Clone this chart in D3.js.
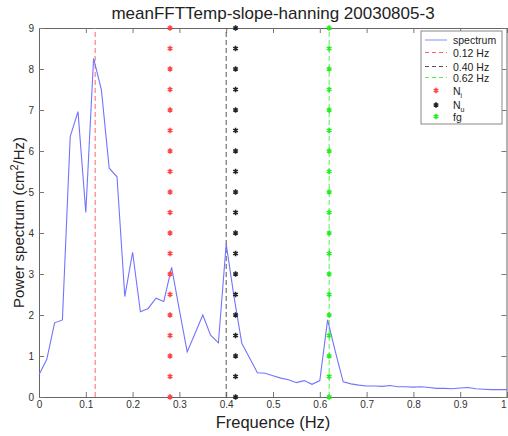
<!DOCTYPE html>
<html>
<head>
<meta charset="utf-8">
<script src="https://cdn.jsdelivr.net/npm/d3@7"></script>
<style>
  body { margin: 0; background: #fff; }
  text { font-family: "Liberation Sans", Arial, sans-serif; }
</style>
</head>
<body>
<div class="chart"></div>
<script>
// spectrum (bins of 1/60 Hz)
const freqs = d3.range(0, 61).map(k => k / 60);
const power = [0.54, 0.92, 1.81, 1.88, 6.35, 6.96, 4.50, 8.26, 7.49, 5.58,
               5.37, 2.45, 3.53, 2.08, 2.16, 2.41, 2.33, 3.16, 2.12, 1.10,
               1.55, 2.00, 1.51, 1.32, 3.73, 2.45, 1.31, 0.95, 0.59, 0.58,
               0.52, 0.46, 0.42, 0.35, 0.40, 0.31, 0.40, 1.88, 1.10, 0.37,
               0.32, 0.29, 0.27, 0.27, 0.26, 0.28, 0.25, 0.25, 0.24, 0.25,
               0.23, 0.21, 0.21, 0.20, 0.22, 0.23, 0.20, 0.19, 0.18, 0.18, 0.18];

const vlines = [
  {f: 0.12, label: "0.12 Hz", color: "#ff6666"},
  {f: 0.40, label: "0.40 Hz", color: "#555555"},
  {f: 0.62, label: "0.62 Hz", color: "#55ee55"}
];
const markerLevels = d3.range(0, 9.01, 0.5);
const markerSets = [
  {f: 0.28, label: "N", sub: "i", color: "#ff4444"},
  {f: 0.42, label: "N", sub: "u", color: "#222222"},
  {f: 0.62, label: "fg", sub: "", color: "#22ee22"}
];
const xTicks = d3.range(0, 1.01, 0.1);
const yTicks = d3.range(0, 10);

const width = 508, height = 436;
const margin = {top: 28, right: 1, bottom: 39, left: 39};

const svg = d3.select(".chart").append("svg")
    .attr("width", width)
    .attr("height", height);

const x = d3.scaleLinear().domain([0, 1]).range([margin.left, width - margin.right]);
const y = d3.scaleLinear().domain([0, 9]).range([height - margin.bottom, margin.top]);

svg.append("text")
    .attr("x", (x(0) + x(1)) / 2)
    .attr("y", 19)
    .attr("text-anchor", "middle")
    .attr("font-size", 17)
    .attr("fill", "#222")
    .text("meanFFTTemp-slope-hanning 20030805-3");

// axes with inward ticks, box like matlab
const tickFmt = d => d === 0 || d === 1 ? d3.format("d")(d) : d3.format(".1f")(d);
svg.append("g")
    .attr("transform", `translate(0,${y(0)})`)
    .call(d3.axisBottom(x).tickValues(xTicks).tickSize(-5).tickPadding(4).tickFormat(tickFmt))
    .call(g => g.select(".domain").attr("stroke", "#666"))
    .call(g => g.selectAll(".tick text").filter(d => d === 1).attr("text-anchor", "end").attr("dx", -1));
svg.append("g")
    .attr("transform", `translate(0,${y(9)})`)
    .call(d3.axisTop(x).tickValues(xTicks).tickSize(-5).tickFormat(""))
    .call(g => g.select(".domain").attr("stroke", "#666"));
svg.append("g")
    .attr("transform", `translate(${x(0)},0)`)
    .call(d3.axisLeft(y).tickValues(yTicks).tickSize(-5).tickPadding(5).tickFormat(d3.format("d")))
    .call(g => g.select(".domain").attr("stroke", "#666"));
svg.append("g")
    .attr("transform", `translate(${x(1) - 0.5},0)`)
    .call(d3.axisRight(y).tickValues(yTicks).tickSize(-5).tickFormat(""))
    .call(g => g.select(".domain").attr("stroke", "#666"));
svg.selectAll(".tick line").attr("stroke", "#777");
svg.selectAll(".tick text").attr("font-size", 10).attr("fill", "#333")
    .attr("font-family", "Liberation Sans, Arial, sans-serif");

// vertical dashed lines
svg.append("g").selectAll("line")
    .data(vlines)
    .join("line")
    .attr("x1", d => x(d.f)).attr("x2", d => x(d.f))
    .attr("y1", y(0)).attr("y2", y(9))
    .attr("stroke", d => d.color)
    .attr("stroke-width", 1)
    .attr("stroke-dasharray", "5,3");

// spectrum
const line = d3.line()
    .x((d, i) => x(freqs[i]))
    .y(d => y(d));
svg.append("path")
    .datum(power)
    .attr("fill", "none")
    .attr("stroke", "#7373ff")
    .attr("stroke-width", 1.1)
    .attr("d", line);

// star markers
const star = d3.symbol().type(d3.symbolAsterisk || d3.symbolCross).size(20);
markerSets.forEach(s => {
  svg.append("g").selectAll("path")
      .data(markerLevels)
      .join("path")
      .attr("transform", d => `translate(${x(s.f)},${y(d)})`)
      .attr("d", star)
      .attr("fill", "none")
      .attr("stroke", s.color)
      .attr("stroke-width", 1.6);
});

// axis labels
svg.append("text")
    .attr("x", (x(0) + x(1)) / 2)
    .attr("y", 428)
    .attr("text-anchor", "middle")
    .attr("font-size", 16.5)
    .attr("fill", "#222")
    .text("Frequence (Hz)");

const yl = svg.append("text")
    .attr("transform", `translate(24,${(y(0) + y(9)) / 2 + 10}) rotate(-90)`)
    .attr("text-anchor", "middle")
    .attr("font-size", 15)
    .attr("fill", "#222");
yl.append("tspan").text("Power spectrum (cm");
yl.append("tspan").attr("dy", -6).attr("font-size", 11).text("2");
yl.append("tspan").attr("dy", 6).text("/Hz)");

// legend
const lg = svg.append("g").attr("transform", "translate(421,31)");
lg.append("rect")
    .attr("width", 81).attr("height", 93)
    .attr("fill", "#fff").attr("stroke", "#888");
const rowY = [9, 21.5, 35.5, 46.5, 59.5, 74, 85.5];
const items = [{label: "spectrum", color: "#8c8cff", dash: null}]
  .concat(vlines.map(v => ({label: v.label, color: v.color, dash: "4,3"})));
items.forEach((it, i) => {
  lg.append("line")
      .attr("x1", 4).attr("x2", 26)
      .attr("y1", rowY[i]).attr("y2", rowY[i])
      .attr("stroke", it.color)
      .attr("stroke-dasharray", it.dash);
  lg.append("text")
      .attr("x", 32).attr("y", rowY[i] + 4)
      .attr("font-size", 10.5).attr("fill", "#222")
      .text(it.label);
});
markerSets.forEach((s, j) => {
  const ry = rowY[4 + j];
  lg.append("path")
      .attr("transform", `translate(15,${ry})`)
      .attr("d", star)
      .attr("fill", "none")
      .attr("stroke", s.color)
      .attr("stroke-width", 1.6);
  const t = lg.append("text")
      .attr("x", 32).attr("y", ry + 4)
      .attr("font-size", 10.5).attr("fill", "#222");
  t.append("tspan").text(s.label);
  if (s.sub) t.append("tspan").attr("dy", 3).attr("font-size", 7).text(s.sub);
});
</script>
</body>
</html>
